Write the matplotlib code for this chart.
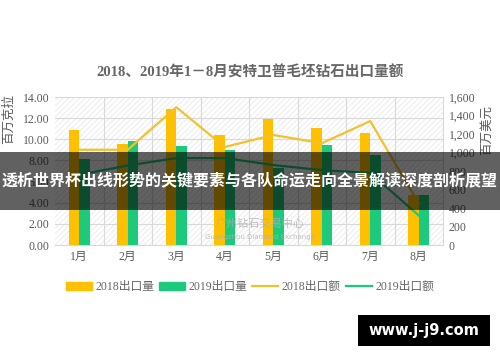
import matplotlib
matplotlib.use("Agg")
import matplotlib.pyplot as plt
import numpy as np
from matplotlib.patches import Rectangle
from matplotlib.lines import Line2D

plt.rcParams['font.family'] = ['Liberation Serif', 'Noto Sans CJK SC', 'DejaVu Sans']
plt.rcParams['hatch.linewidth'] = 0.5
plt.rcParams['hatch.color'] = '#e6e6e6'

months = ['1月', '2月', '3月', '4月', '5月', '6月', '7月', '8月']
vol_2018 = [10.9, 9.6, 12.9, 10.4, 11.9, 11.1, 10.6, 4.7]
vol_2019 = [8.1, 9.8, 9.4, 9.0, 7.3, 9.5, 8.5, 4.7]
val_2018 = [1030, 1030, 1490, 1060, 1190, 1100, 1340, 450]
val_2019 = [760, 860, 940, 940, 865, 810, 780, 320]
left_ticks = [0, 2, 4, 6, 8, 10, 12, 14]
right_ticks = [0, 200, 400, 600, 800, 1000, 1200, 1400, 1600]

title = '2018、2019年1－8月安特卫普毛坯钻石出口量额'
overlay = '透析世界杯出线形势的关键要素与各队命运走向全景解读深度剖析展望'

C18 = '#FFC000'
C19 = '#1DC97C'
GREY = '#595959'

fig = plt.figure(figsize=(5, 3.62), dpi=100)
ax = fig.add_axes([0.11, 0.323, 0.776, 0.409])
ax2 = ax.twinx()

x = np.arange(len(months))
w = 0.22
ax.add_patch(Rectangle((0, 0), 1, 1, transform=ax.transAxes, facecolor='white',
                       hatch='//////', edgecolor='#e6e6e6', linewidth=0, zorder=0))
ax.bar(x - w / 2, vol_2018, w, color=C18, zorder=3, label='2018出口量')
ax.bar(x + w / 2, vol_2019, w, color=C19, zorder=3, label='2019出口量')
ax.set_ylim(0, 14)
ax.set_xlim(-0.5, len(months) - 0.5)
ax.set_yticks(left_ticks)
ax.set_yticklabels([f'{v:.2f}' for v in left_ticks])
ax.set_xticks(x)
ax.set_xticklabels(months)
for v in left_ticks:
    ax.axhline(v, color='#d9d9d9', lw=0.8, zorder=1)
for b in np.arange(0.5, len(months) - 0.5, 1):
    ax.axvline(b, color='#d9d9d9', lw=0.8, zorder=1)

ax2.plot(x, val_2018, color='#F2C12E', lw=1.6, zorder=4)
ax2.plot(x, val_2019, color=C19, lw=1.6, zorder=4)
ax2.set_ylim(0, 1600)
ax2.set_yticks(right_ticks)
ax2.set_yticklabels([f'{v:,}' for v in right_ticks])

for a in (ax, ax2):
    a.tick_params(length=0, labelsize=8.5, labelcolor=GREY, pad=4)
    for s in ['top', 'left']:
        a.spines[s].set_visible(False)
    a.spines['bottom'].set_color('#d9d9d9')
    a.spines['right'].set_color('#d9d9d9')
ax.spines['right'].set_visible(False)
ax2.spines['bottom'].set_visible(False)

fig.text(9 / 500, 1 - 119 / 362, '百万克拉', rotation=90, ha='center', va='center',
         fontsize=9, color=GREY, family=['Noto Sans CJK SC'])
fig.text(486 / 500, 1 - 130 / 362, '百万美元', rotation=90, ha='center', va='center',
         fontsize=9, color=GREY, family=['Noto Sans CJK SC'])

fig.text(0.5, 0.80, title, ha='center', va='center', fontsize=10.5, color='#666666',
         fontweight='bold')

handles = [Rectangle((0, 0), 1, 1, color=C18), Rectangle((0, 0), 1, 1, color=C19),
           Line2D([], [], color='#F2C12E', lw=1.6), Line2D([], [], color=C19, lw=1.6)]
labels = ['2018出口量', '2019出口量', '2018出口额', '2019出口额']
fig.legend(handles, labels, loc='center', bbox_to_anchor=(0.5, 0.207), ncol=4,
           frameon=False, fontsize=8.5, handlelength=2.2, handleheight=0.6,
           columnspacing=0.4, handletextpad=0.3, labelcolor='#666666')

# faint watermark
fig.text(0.52, 0.382, '广州钻石交易中心', ha='center', va='center', fontsize=8,
         color='#b0b0b0', family=['Noto Sans CJK SC'], alpha=0.8, zorder=5)
fig.text(0.52, 0.345, 'Guangzhou Diamond Exchange', ha='center', va='center', fontsize=5,
         color='#b0b0b0', family=['DejaVu Sans'], alpha=0.8, zorder=5)

# overlay band
fig.patches.append(Rectangle((0, 1 - 210 / 362), 1, 58 / 362, transform=fig.transFigure,
                             facecolor='black', alpha=0.62, zorder=10))
fig.text(0.5, 1 - 180 / 362, overlay, ha='center', va='center', fontsize=11.5,
         color='white', fontweight='bold', family=['Noto Sans CJK SC'], zorder=11)

# site badge
fig.patches.append(Rectangle((358 / 500, 1 - 346 / 362), 132 / 500, 31 / 362,
                             transform=fig.transFigure, facecolor='black', zorder=10))
fig.text(424 / 500, 1 - 331 / 362, 'www.j-j9.com', ha='center', va='center', fontsize=10.5,
         color='white', fontweight='bold', family=['DejaVu Sans'], zorder=11)

fig.savefig('out.png', dpi=100, facecolor='white')
